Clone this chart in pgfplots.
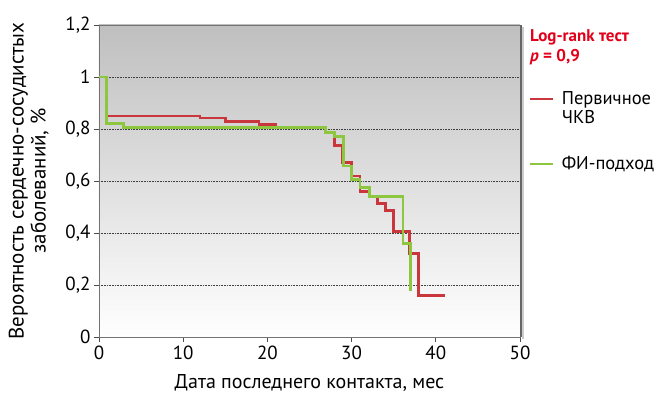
\documentclass[border=0pt]{standalone}
\usepackage{pgfplots}
\pgfplotsset{compat=1.18}
\usepackage{fontspec}
\setmainfont{PT Sans}
\definecolor{kmred}{HTML}{C9373C}
\definecolor{kmgreen}{HTML}{8DC63F}
\definecolor{txtred}{HTML}{E2001A}
\begin{document}
\begin{tikzpicture}[font=\fontsize{19bp}{22bp}\selectfont]
\begin{axis}[
  scale only axis, width=421bp, height=312bp,
  xmin=0, xmax=50, ymin=0, ymax=1.2,
  xtick={0,10,20,30,40,50},
  xticklabels={0,10,20,30,40,50},
  ytick={0,0.2,0.4,0.6,0.8,1,1.2},
  yticklabels={0,{0,2},{0,4},{0,6},{0,8},1,{1,2}},
  xtick pos=bottom, ytick pos=left,
  tick align=outside, major tick length=5bp,
  tick style={black!70, line width=0.8bp},
  axis line style={black!55, line width=0.9bp},
  ymajorgrids,
  grid style={black!75, line width=0.6bp, dash pattern=on 0.8bp off 0.8bp},
  axis background/.style={top color=black!25, bottom color=white},
  xlabel={Дата последнего контакта, мес},
  xlabel style={font=\fontsize{20bp}{22bp}\selectfont, yshift=-8bp},
  ylabel={Вероятность сердечно-сосудистых\\заболеваний, \%},
  ylabel style={align=center, font=\fontsize{21bp}{22bp}\selectfont, yshift=10bp},
  clip=false,
  legend cell align=left,
  legend image code/.code={\draw[#1, line width=2.2bp] (0bp,0bp) -- (23bp,0bp);},
  legend style={draw=none, fill=none, at={(1.02,0.659)}, anchor=west,
    row sep=60bp, column sep=6bp, inner sep=0pt, font=\fontsize{18.5bp}{20bp}\selectfont},
]
\addplot[const plot, color=kmred, line width=2.8bp] coordinates {
 (0,1) (0.9,0.85) (12,0.842) (15,0.829) (19,0.816) (21,0.806) (26.9,0.787)
 (27.95,0.735) (28.9,0.671) (30,0.619) (31,0.561) (32.1,0.539) (33.1,0.513)
 (34,0.487) (35,0.406) (36.9,0.32) (37.9,0.159) (41.1,0.159)};
\addlegendentry{\smash{\raisebox{-0.33em}{\begin{tabular}[t]{@{}l@{}}Первичное\\[-1bp]ЧКВ\end{tabular}}}}
\addplot[const plot, color=kmgreen, line width=2.8bp] coordinates {
 (0,1) (0.9,0.82) (2.9,0.806) (26.9,0.787) (27.95,0.771) (29,0.658)
 (30,0.606) (31,0.574) (32.1,0.539) (36.1,0.361) (37,0.178)};
\addlegendentry{\smash{\raisebox{-0.33em}{ФИ-подход}}}
\draw[black!60, line width=2bp] ([xshift=1bp]rel axis cs:1,0) -- ([xshift=1bp]rel axis cs:1,1);
\draw[black!20, line width=2bp] ([xshift=3bp,yshift=-2bp]rel axis cs:1,0) -- ([xshift=3bp,yshift=-2bp]rel axis cs:1,1);
\node[anchor=north west, align=left, text=txtred, font=\fontsize{17bp}{20bp}\selectfont\bfseries, inner sep=0pt]
  at ([xshift=10bp,yshift=-4bp]rel axis cs:1,1) {Log-rank тест\\\textit{p} = 0,9};
\coordinate (plotSW) at (rel axis cs:0,0);
\coordinate (plotNE) at (rel axis cs:1,1);
\end{axis}
\pgfresetboundingbox
\path ([xshift=-99bp,yshift=-57bp]plotSW) rectangle ([xshift=137bp,yshift=25bp]plotNE);
\end{tikzpicture}
\end{document}
